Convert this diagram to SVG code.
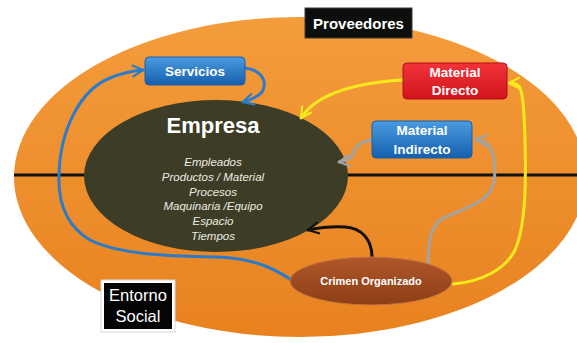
<svg xmlns="http://www.w3.org/2000/svg" width="577" height="343" viewBox="0 0 577 343">
<defs>
<style>
.t{font-family:"Liberation Sans",Arial,sans-serif;fill:#fff;text-anchor:middle}
.b{font-weight:bold}
.it{font-style:italic;font-size:11.5px;fill:#ecebe2}
.ln{fill:none;stroke-width:3;stroke-linecap:round}
</style>
<linearGradient id="gOr" x1="0" y1="0" x2="0" y2="1">
<stop offset="0" stop-color="#f49c3c"/><stop offset="1" stop-color="#e8821f"/>
</linearGradient>
<linearGradient id="gBlue" x1="0" y1="0" x2="0" y2="1">
<stop offset="0" stop-color="#4a9be0"/><stop offset="1" stop-color="#155fae"/>
</linearGradient>
<linearGradient id="gRed" x1="0" y1="0" x2="0" y2="1">
<stop offset="0" stop-color="#f2333a"/><stop offset="1" stop-color="#d0141c"/>
</linearGradient>
<linearGradient id="gBr" x1="0" y1="0" x2="0" y2="1">
<stop offset="0" stop-color="#b0572a"/><stop offset="1" stop-color="#8c3e16"/>
</linearGradient>
<marker id="aBlue" viewBox="0 0 10 10" refX="8.5" refY="5" markerWidth="4.5" markerHeight="4.5" orient="auto" markerUnits="strokeWidth"><path d="M1,1 L8.5,5 L1,9" fill="none" stroke="#2b7bc9" stroke-width="1.6" stroke-linecap="round" stroke-linejoin="round"/></marker>
<marker id="aYel" viewBox="0 0 10 10" refX="8.5" refY="5" markerWidth="4.5" markerHeight="4.5" orient="auto" markerUnits="strokeWidth"><path d="M1,1 L8.5,5 L1,9" fill="none" stroke="#f7ea1c" stroke-width="1.6" stroke-linecap="round" stroke-linejoin="round"/></marker>
<marker id="aGray" viewBox="0 0 10 10" refX="8.5" refY="5" markerWidth="4.5" markerHeight="4.5" orient="auto" markerUnits="strokeWidth"><path d="M1,1 L8.5,5 L1,9" fill="none" stroke="#a3a3a3" stroke-width="1.6" stroke-linecap="round" stroke-linejoin="round"/></marker>
<marker id="aBlk" viewBox="0 0 10 10" refX="8.5" refY="5" markerWidth="4.5" markerHeight="4.5" orient="auto" markerUnits="strokeWidth"><path d="M1,1 L8.5,5 L1,9" fill="none" stroke="#111" stroke-width="1.6" stroke-linecap="round" stroke-linejoin="round"/></marker>
</defs>
<rect width="577" height="343" fill="#fff"/>
<g id="entorno">
<ellipse cx="300" cy="177" rx="286" ry="160" fill="url(#gOr)"/>
<line x1="14" y1="175" x2="577" y2="175" stroke="#111" stroke-width="3"/>
</g>
<g id="empresa">
<ellipse cx="216" cy="176" rx="132" ry="76" fill="#3d3d27"/>
<text class="t b" x="213" y="133" font-size="22">Empresa</text>
<text class="t it" x="213" y="166">Empleados</text>
<text class="t it" x="213" y="181">Productos / Material</text>
<text class="t it" x="213" y="196">Procesos</text>
<text class="t it" x="213" y="210">Maquinaria /Equipo</text>
<text class="t it" x="213" y="225">Espacio</text>
<text class="t it" x="213" y="240">Tiempos</text>
</g>
<g id="connectors">
<path class="ln" stroke="#2b7bc9" d="M290,279 C270,266 250,258 215,257 C170,256 120,255 90,240 C65,225 58,200 59,175 C60,130 80,90 110,78 C122,73 132,71 143,70" marker-end="url(#aBlue)"/>
<path class="ln" stroke="#2b7bc9" d="M245,68 C262,70 268,82 262,92 C258,97 250,100 243,102" marker-end="url(#aBlue)"/>
<path class="ln" stroke="#f7ea1c" d="M402,80 C370,82 340,88 320,100 C310,106 305,112 301,118" marker-end="url(#aYel)"/>
<path class="ln" stroke="#f7ea1c" d="M453,284 C480,282 505,270 515,250 C526,225 526,180 525,140 C524,110 523,92 519,86 C517,84 514,83 509,83" marker-end="url(#aYel)"/>
<path class="ln" stroke="#a3a3a3" d="M428,263 C428,245 430,228 440,220 C455,212 480,205 490,192 C497,180 496,158 490,148 C486,142 482,140 476,139" marker-end="url(#aGray)"/>
<path class="ln" stroke="#a3a3a3" d="M372,140 C362,141 356,146 354,152 C352,158 346,161 339,162" marker-end="url(#aGray)"/>
<path class="ln" stroke="#111" d="M372,257 C372,240 362,228 345,227 C330,226 318,228 308,230" marker-end="url(#aBlk)"/>
</g>
<g id="proveedores">
<rect x="305" y="8" width="107" height="30" fill="#0d0f0c" stroke="#3a3a3a" stroke-width="1"/>
<text class="t b" x="358.5" y="29" font-size="15">Proveedores</text>
</g>
<g id="servicios">
<rect x="145" y="57" width="100" height="28" rx="4" fill="url(#gBlue)" stroke="#1a5fa8" stroke-width="1"/>
<text class="t b" x="195" y="76" font-size="13.5">Servicios</text>
</g>
<g id="material-directo">
<rect x="403" y="63" width="104" height="36" rx="4" fill="url(#gRed)" stroke="#b01018" stroke-width="1"/>
<text class="t b" x="455" y="77" font-size="13.5">Material</text>
<text class="t b" x="455" y="95" font-size="13.5">Directo</text>
</g>
<g id="material-indirecto">
<rect x="372" y="121" width="100" height="37" rx="4" fill="url(#gBlue)" stroke="#1a5fa8" stroke-width="1"/>
<text class="t b" x="422" y="135" font-size="13.5">Material</text>
<text class="t b" x="422" y="154" font-size="13.5">Indirecto</text>
</g>
<g id="crimen">
<ellipse cx="371" cy="281" rx="81" ry="24" fill="url(#gBr)" stroke="#c8733f" stroke-width="1"/>
<text class="t b" x="371" y="285" font-size="11">Crimen Organizado</text>
</g>
<g id="entorno-social">
<rect x="101" y="280" width="74" height="52" fill="#fff" stroke="#d8d8d8" stroke-width="1"/>
<rect x="104" y="283" width="68" height="46" fill="#050505"/>
<text class="t" x="138" y="301" font-size="16.5">Entorno</text>
<text class="t" x="138" y="322" font-size="16.5">Social</text>
</g>
</svg>
